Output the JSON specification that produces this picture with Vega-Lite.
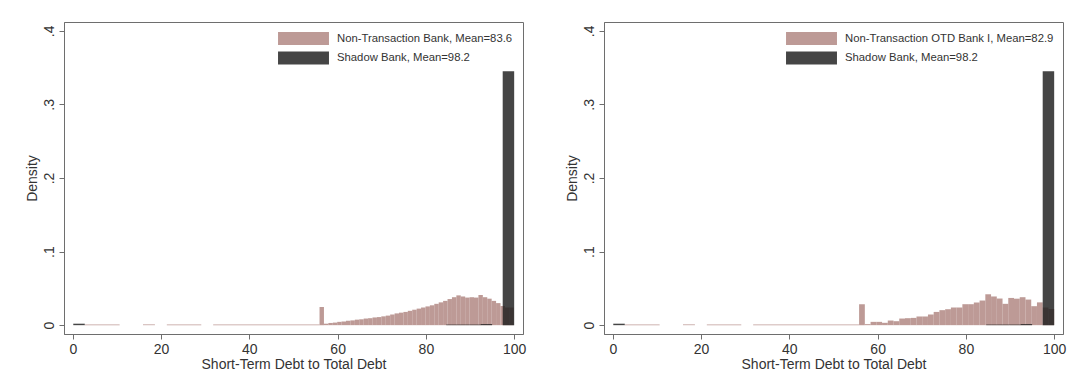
{
  "$schema": "https://vega.github.io/schema/vega-lite/v6.json",
  "background": "white",
  "padding": {"left": 24, "top": 21, "right": 5, "bottom": 5},
  "config": {
    "view": {"stroke": "#6e6e6e", "strokeWidth": 1},
    "axis": {"labelFont": "Liberation Sans", "titleFont": "Liberation Sans", "labelFontSize": 14, "titleFontSize": 14, "titleFontWeight": "normal", "labelColor": "#333333", "titleColor": "#333333", "domainColor": "#6e6e6e", "tickColor": "#6e6e6e", "tickSize": 5, "grid": false},
    "legend": {"labelFont": "Liberation Sans", "labelFontSize": 11.3, "labelColor": "#333333", "padding": 0}
  },
  "datasets": {
    "left": [
      {"series": "Non-Transaction Bank, Mean=83.6", "x0": 2.7, "x1": 10.6, "density": 0.001},
      {"series": "Non-Transaction Bank, Mean=83.6", "x0": 15.9, "x1": 18.6, "density": 0.001},
      {"series": "Non-Transaction Bank, Mean=83.6", "x0": 21.3, "x1": 29.1, "density": 0.001},
      {"series": "Non-Transaction Bank, Mean=83.6", "x0": 31.8, "x1": 55.9, "density": 0.001},
      {"series": "Non-Transaction Bank, Mean=83.6", "x0": 55.9, "x1": 56.9, "density": 0.0248},
      {"series": "Non-Transaction Bank, Mean=83.6", "x0": 56.9, "x1": 57.9, "density": 0.002},
      {"series": "Non-Transaction Bank, Mean=83.6", "x0": 57.9, "x1": 58.9, "density": 0.003},
      {"series": "Non-Transaction Bank, Mean=83.6", "x0": 58.9, "x1": 59.9, "density": 0.0035},
      {"series": "Non-Transaction Bank, Mean=83.6", "x0": 59.9, "x1": 60.9, "density": 0.0045},
      {"series": "Non-Transaction Bank, Mean=83.6", "x0": 60.9, "x1": 61.9, "density": 0.005},
      {"series": "Non-Transaction Bank, Mean=83.6", "x0": 61.9, "x1": 62.9, "density": 0.006},
      {"series": "Non-Transaction Bank, Mean=83.6", "x0": 62.9, "x1": 63.9, "density": 0.0065},
      {"series": "Non-Transaction Bank, Mean=83.6", "x0": 63.9, "x1": 64.9, "density": 0.0075},
      {"series": "Non-Transaction Bank, Mean=83.6", "x0": 64.9, "x1": 65.9, "density": 0.008},
      {"series": "Non-Transaction Bank, Mean=83.6", "x0": 65.9, "x1": 66.9, "density": 0.009},
      {"series": "Non-Transaction Bank, Mean=83.6", "x0": 66.9, "x1": 67.9, "density": 0.0095},
      {"series": "Non-Transaction Bank, Mean=83.6", "x0": 67.9, "x1": 68.9, "density": 0.0105},
      {"series": "Non-Transaction Bank, Mean=83.6", "x0": 68.9, "x1": 69.9, "density": 0.011},
      {"series": "Non-Transaction Bank, Mean=83.6", "x0": 69.9, "x1": 70.9, "density": 0.012},
      {"series": "Non-Transaction Bank, Mean=83.6", "x0": 70.9, "x1": 71.9, "density": 0.013},
      {"series": "Non-Transaction Bank, Mean=83.6", "x0": 71.9, "x1": 72.9, "density": 0.0145},
      {"series": "Non-Transaction Bank, Mean=83.6", "x0": 72.9, "x1": 73.9, "density": 0.016},
      {"series": "Non-Transaction Bank, Mean=83.6", "x0": 73.9, "x1": 74.9, "density": 0.017},
      {"series": "Non-Transaction Bank, Mean=83.6", "x0": 74.9, "x1": 75.9, "density": 0.018},
      {"series": "Non-Transaction Bank, Mean=83.6", "x0": 75.9, "x1": 76.9, "density": 0.0195},
      {"series": "Non-Transaction Bank, Mean=83.6", "x0": 76.9, "x1": 77.9, "density": 0.021},
      {"series": "Non-Transaction Bank, Mean=83.6", "x0": 77.9, "x1": 78.9, "density": 0.0225},
      {"series": "Non-Transaction Bank, Mean=83.6", "x0": 78.9, "x1": 79.9, "density": 0.024},
      {"series": "Non-Transaction Bank, Mean=83.6", "x0": 79.9, "x1": 80.9, "density": 0.0255},
      {"series": "Non-Transaction Bank, Mean=83.6", "x0": 80.9, "x1": 81.9, "density": 0.027},
      {"series": "Non-Transaction Bank, Mean=83.6", "x0": 81.9, "x1": 82.9, "density": 0.029},
      {"series": "Non-Transaction Bank, Mean=83.6", "x0": 82.9, "x1": 83.9, "density": 0.031},
      {"series": "Non-Transaction Bank, Mean=83.6", "x0": 83.9, "x1": 84.9, "density": 0.033},
      {"series": "Non-Transaction Bank, Mean=83.6", "x0": 84.9, "x1": 85.9, "density": 0.0355},
      {"series": "Non-Transaction Bank, Mean=83.6", "x0": 85.9, "x1": 86.9, "density": 0.038},
      {"series": "Non-Transaction Bank, Mean=83.6", "x0": 86.9, "x1": 87.9, "density": 0.0405},
      {"series": "Non-Transaction Bank, Mean=83.6", "x0": 87.9, "x1": 88.9, "density": 0.039},
      {"series": "Non-Transaction Bank, Mean=83.6", "x0": 88.9, "x1": 89.9, "density": 0.0375},
      {"series": "Non-Transaction Bank, Mean=83.6", "x0": 89.9, "x1": 90.9, "density": 0.038},
      {"series": "Non-Transaction Bank, Mean=83.6", "x0": 90.9, "x1": 91.9, "density": 0.0375},
      {"series": "Non-Transaction Bank, Mean=83.6", "x0": 91.9, "x1": 92.9, "density": 0.041},
      {"series": "Non-Transaction Bank, Mean=83.6", "x0": 92.9, "x1": 93.9, "density": 0.038},
      {"series": "Non-Transaction Bank, Mean=83.6", "x0": 93.9, "x1": 94.9, "density": 0.036},
      {"series": "Non-Transaction Bank, Mean=83.6", "x0": 94.9, "x1": 95.9, "density": 0.033},
      {"series": "Non-Transaction Bank, Mean=83.6", "x0": 95.9, "x1": 96.9, "density": 0.03},
      {"series": "Non-Transaction Bank, Mean=83.6", "x0": 96.9, "x1": 97.9, "density": 0.026},
      {"series": "Non-Transaction Bank, Mean=83.6", "x0": 97.9, "x1": 98.9, "density": 0.024},
      {"series": "Non-Transaction Bank, Mean=83.6", "x0": 98.9, "x1": 99.9, "density": 0.024},
      {"series": "Shadow Bank, Mean=98.2", "x0": 0.1, "x1": 2.7, "density": 0.002},
      {"series": "Shadow Bank, Mean=98.2", "x0": 84.6, "x1": 87.2, "density": 0.0008},
      {"series": "Shadow Bank, Mean=98.2", "x0": 87.2, "x1": 89.8, "density": 0.0008},
      {"series": "Shadow Bank, Mean=98.2", "x0": 89.8, "x1": 92.4, "density": 0.0008},
      {"series": "Shadow Bank, Mean=98.2", "x0": 92.4, "x1": 95.0, "density": 0.0015},
      {"series": "Shadow Bank, Mean=98.2", "x0": 97.4, "x1": 100.0, "density": 0.345}
    ],
    "right": [
      {"series": "Non-Transaction OTD Bank I, Mean=82.9", "x0": 2.7, "x1": 10.6, "density": 0.001},
      {"series": "Non-Transaction OTD Bank I, Mean=82.9", "x0": 15.9, "x1": 18.6, "density": 0.001},
      {"series": "Non-Transaction OTD Bank I, Mean=82.9", "x0": 21.3, "x1": 29.1, "density": 0.001},
      {"series": "Non-Transaction OTD Bank I, Mean=82.9", "x0": 31.8, "x1": 55.8, "density": 0.001},
      {"series": "Non-Transaction OTD Bank I, Mean=82.9", "x0": 55.8, "x1": 57.1, "density": 0.0285},
      {"series": "Non-Transaction OTD Bank I, Mean=82.9", "x0": 57.1, "x1": 58.4, "density": 0.0014},
      {"series": "Non-Transaction OTD Bank I, Mean=82.9", "x0": 58.4, "x1": 59.7, "density": 0.0045},
      {"series": "Non-Transaction OTD Bank I, Mean=82.9", "x0": 59.7, "x1": 61.0, "density": 0.0045},
      {"series": "Non-Transaction OTD Bank I, Mean=82.9", "x0": 61.0, "x1": 62.3, "density": 0.0032},
      {"series": "Non-Transaction OTD Bank I, Mean=82.9", "x0": 62.3, "x1": 63.6, "density": 0.0063},
      {"series": "Non-Transaction OTD Bank I, Mean=82.9", "x0": 63.6, "x1": 64.9, "density": 0.0054},
      {"series": "Non-Transaction OTD Bank I, Mean=82.9", "x0": 64.9, "x1": 66.2, "density": 0.009},
      {"series": "Non-Transaction OTD Bank I, Mean=82.9", "x0": 66.2, "x1": 67.5, "density": 0.0095},
      {"series": "Non-Transaction OTD Bank I, Mean=82.9", "x0": 67.5, "x1": 68.8, "density": 0.0099},
      {"series": "Non-Transaction OTD Bank I, Mean=82.9", "x0": 68.8, "x1": 70.1, "density": 0.0118},
      {"series": "Non-Transaction OTD Bank I, Mean=82.9", "x0": 70.1, "x1": 71.4, "density": 0.0118},
      {"series": "Non-Transaction OTD Bank I, Mean=82.9", "x0": 71.4, "x1": 72.7, "density": 0.0145},
      {"series": "Non-Transaction OTD Bank I, Mean=82.9", "x0": 72.7, "x1": 74.0, "density": 0.018},
      {"series": "Non-Transaction OTD Bank I, Mean=82.9", "x0": 74.0, "x1": 75.3, "density": 0.0204},
      {"series": "Non-Transaction OTD Bank I, Mean=82.9", "x0": 75.3, "x1": 76.6, "density": 0.0217},
      {"series": "Non-Transaction OTD Bank I, Mean=82.9", "x0": 76.6, "x1": 77.9, "density": 0.024},
      {"series": "Non-Transaction OTD Bank I, Mean=82.9", "x0": 77.9, "x1": 79.2, "density": 0.024},
      {"series": "Non-Transaction OTD Bank I, Mean=82.9", "x0": 79.2, "x1": 80.5, "density": 0.0285},
      {"series": "Non-Transaction OTD Bank I, Mean=82.9", "x0": 80.5, "x1": 81.8, "density": 0.0285},
      {"series": "Non-Transaction OTD Bank I, Mean=82.9", "x0": 81.8, "x1": 83.1, "density": 0.0308},
      {"series": "Non-Transaction OTD Bank I, Mean=82.9", "x0": 83.1, "x1": 84.4, "density": 0.0335},
      {"series": "Non-Transaction OTD Bank I, Mean=82.9", "x0": 84.4, "x1": 85.7, "density": 0.042},
      {"series": "Non-Transaction OTD Bank I, Mean=82.9", "x0": 85.7, "x1": 87.0, "density": 0.039},
      {"series": "Non-Transaction OTD Bank I, Mean=82.9", "x0": 87.0, "x1": 88.3, "density": 0.0362},
      {"series": "Non-Transaction OTD Bank I, Mean=82.9", "x0": 88.3, "x1": 89.6, "density": 0.029},
      {"series": "Non-Transaction OTD Bank I, Mean=82.9", "x0": 89.6, "x1": 90.9, "density": 0.037},
      {"series": "Non-Transaction OTD Bank I, Mean=82.9", "x0": 90.9, "x1": 92.2, "density": 0.036},
      {"series": "Non-Transaction OTD Bank I, Mean=82.9", "x0": 92.2, "x1": 93.5, "density": 0.038},
      {"series": "Non-Transaction OTD Bank I, Mean=82.9", "x0": 93.5, "x1": 94.8, "density": 0.0348},
      {"series": "Non-Transaction OTD Bank I, Mean=82.9", "x0": 94.8, "x1": 96.1, "density": 0.0258},
      {"series": "Non-Transaction OTD Bank I, Mean=82.9", "x0": 96.1, "x1": 97.4, "density": 0.031},
      {"series": "Non-Transaction OTD Bank I, Mean=82.9", "x0": 97.4, "x1": 98.7, "density": 0.024},
      {"series": "Non-Transaction OTD Bank I, Mean=82.9", "x0": 98.7, "x1": 100.0, "density": 0.022},
      {"series": "Shadow Bank, Mean=98.2", "x0": 0.1, "x1": 2.7, "density": 0.002},
      {"series": "Shadow Bank, Mean=98.2", "x0": 84.6, "x1": 87.2, "density": 0.0008},
      {"series": "Shadow Bank, Mean=98.2", "x0": 87.2, "x1": 89.8, "density": 0.0008},
      {"series": "Shadow Bank, Mean=98.2", "x0": 89.8, "x1": 92.4, "density": 0.0008},
      {"series": "Shadow Bank, Mean=98.2", "x0": 92.4, "x1": 95.0, "density": 0.0015},
      {"series": "Shadow Bank, Mean=98.2", "x0": 97.4, "x1": 100.0, "density": 0.345}
    ]
  },
  "spacing": 37,
  "resolve": {"scale": {"color": "independent"}, "legend": {"color": "independent"}},
  "hconcat": [
    {
      "width": 459,
      "height": 312,
      "data": {"name": "left"},
      "mark": {"type": "bar", "opacity": 0.83, "strokeWidth": 0},
      "encoding": {
        "x": {"field": "x0", "type": "quantitative", "scale": {"domain": [-2, 102], "nice": false, "zero": false}, "axis": {"values": [0, 20, 40, 60, 80, 100], "title": "Short-Term Debt to Total Debt", "labelPadding": 3, "titlePadding": 1}},
        "x2": {"field": "x1"},
        "y": {"field": "density", "type": "quantitative", "stack": null, "scale": {"domain": [-0.012, 0.412], "nice": false, "zero": false}, "axis": {"values": [0, 0.1, 0.2, 0.3, 0.4], "labelExpr": "datum.value == 0 ? '0' : '.' + round(datum.value * 10)", "labelAngle": -90, "labelAlign": "center", "labelBaseline": "bottom", "labelPadding": 3, "title": "Density", "titlePadding": 3}},
        "y2": {"datum": 0},
        "color": {"field": "series", "type": "nominal", "sort": null, "scale": {"domain": ["Non-Transaction Bank, Mean=83.6", "Shadow Bank, Mean=98.2"], "range": ["#b08581", "#1f1f1f"]}, "legend": {"title": null, "orient": "none", "legendX": 233, "legendY": 10, "symbolType": "M-3.92,-1H3.92V1H-3.92Z", "symbolSize": 169, "symbolStrokeWidth": 0, "symbolOpacity": 0.83, "labelOffset": 27, "rowPadding": 6.5, "labelLimit": 400}}
      }
    },
    {
      "width": 459,
      "height": 312,
      "data": {"name": "right"},
      "mark": {"type": "bar", "opacity": 0.83, "strokeWidth": 0},
      "encoding": {
        "x": {"field": "x0", "type": "quantitative", "scale": {"domain": [-2, 102], "nice": false, "zero": false}, "axis": {"values": [0, 20, 40, 60, 80, 100], "title": "Short-Term Debt to Total Debt", "labelPadding": 3, "titlePadding": 1}},
        "x2": {"field": "x1"},
        "y": {"field": "density", "type": "quantitative", "stack": null, "scale": {"domain": [-0.012, 0.412], "nice": false, "zero": false}, "axis": {"values": [0, 0.1, 0.2, 0.3, 0.4], "labelExpr": "datum.value == 0 ? '0' : '.' + round(datum.value * 10)", "labelAngle": -90, "labelAlign": "center", "labelBaseline": "bottom", "labelPadding": 3, "title": "Density", "titlePadding": 3}},
        "y2": {"datum": 0},
        "color": {"field": "series", "type": "nominal", "sort": null, "scale": {"domain": ["Non-Transaction OTD Bank I, Mean=82.9", "Shadow Bank, Mean=98.2"], "range": ["#b08581", "#1f1f1f"]}, "legend": {"title": null, "orient": "none", "legendX": 201, "legendY": 10, "symbolType": "M-3.92,-1H3.92V1H-3.92Z", "symbolSize": 169, "symbolStrokeWidth": 0, "symbolOpacity": 0.83, "labelOffset": 27, "rowPadding": 6.5, "labelLimit": 400}}
      }
    }
  ]
}
